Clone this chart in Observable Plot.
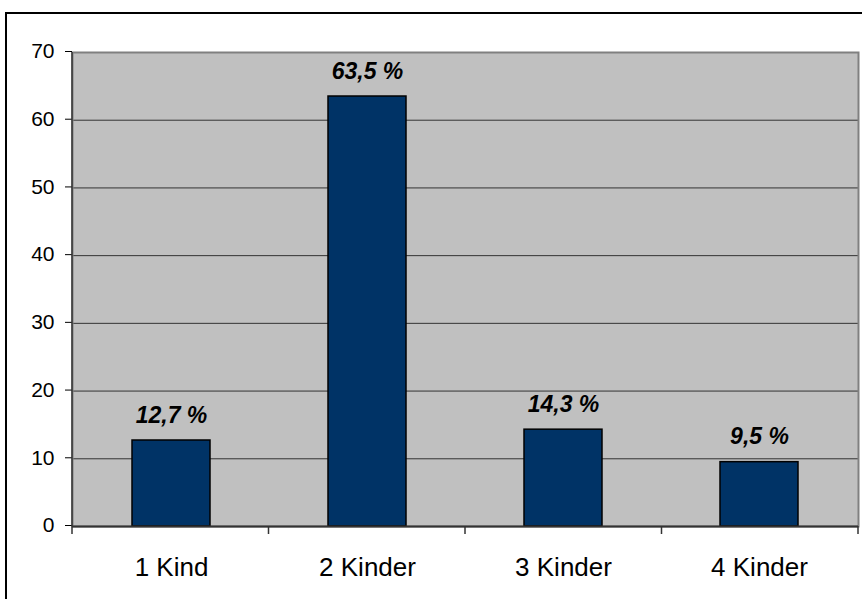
<!DOCTYPE html>
<html>
<head>
<meta charset="utf-8">
<script src="https://cdn.jsdelivr.net/npm/d3@7"></script>
<script src="https://cdn.jsdelivr.net/npm/@observablehq/plot@0.6"></script>
<style>
  html, body { margin: 0; padding: 0; background: #fff; }
  #chart { position: relative; width: 862px; height: 599px; overflow: hidden; }
  #chart svg { position: absolute; left: 0; top: 0; }
  #border { position: absolute; left: 5px; top: 12px; width: 900px; height: 700px;
            border-top: 2px solid #000; border-left: 2px solid #000; pointer-events: none; }
</style>
</head>
<body>
<div id="chart"><div id="border"></div></div>
<script>
// Families by number of children (share in percent)
const categories = ["1 Kind", "2 Kinder", "3 Kinder", "4 Kinder"];
const shares = [12.7, 63.5, 14.3, 9.5];
const yTicks = [0, 10, 20, 30, 40, 50, 60, 70];
const gridValues = [10, 20, 30, 40, 50, 60];

const rows = categories.map((c, i) => ({category: c, share: shares[i]}));
const fmt = v => v.toFixed(1).replace(".", ",") + " %";

const plot = Plot.plot({
  width: 862,
  height: 599,
  marginTop: 52,
  marginRight: 4,
  marginBottom: 73,
  marginLeft: 72,
  style: {fontFamily: "'Liberation Sans', Arial, sans-serif", background: "transparent", color: "#000"},
  x: {domain: categories, paddingInner: 0.6, paddingOuter: 0.3, label: null},
  y: {domain: [0, 70], label: null},
  marks: [
    Plot.frame({fill: "#c0c0c0"}),
    Plot.ruleY(gridValues, {stroke: "#333", strokeWidth: 1}),
    Plot.frame({stroke: "#808080", strokeWidth: 2}),
    Plot.barY(rows, {x: "category", y: "share", fill: "#003366", stroke: "#000", strokeWidth: 1.5}),
    Plot.text(rows, {
      x: "category", y: "share", text: d => fmt(d.share),
      dy: -18, lineAnchor: "bottom",
      fontSize: 23, fontWeight: "bold", fontStyle: "italic", fill: "#000"
    }),
    Plot.ruleY([0], {stroke: "#333", strokeWidth: 2}),
    Plot.axisY({ticks: yTicks, tickSize: 7, tickPadding: 11, fontSize: 21, tickFormat: d => d, dy: -1, label: null}),
    Plot.axisX({tickSize: 0, tickPadding: 31, fontSize: 26, label: null})
  ]
});

// Category boundary ticks and the left axis line, placed with the plot's own scales
const sx = plot.scale("x");
const sy = plot.scale("y");
const [x0, x1] = sx.range;
const n = categories.length;
const base = sy.apply(0);
const g = d3.select(plot).append("g").attr("stroke", "#333");
g.append("line")
  .attr("x1", x0).attr("x2", x0)
  .attr("y1", sy.apply(70)).attr("y2", base)
  .attr("stroke-width", 1.5);
g.selectAll("line.b")
  .data(d3.range(n + 1))
  .join("line")
  .attr("class", "b")
  .attr("x1", i => x0 + i * (x1 - x0) / n)
  .attr("x2", i => x0 + i * (x1 - x0) / n)
  .attr("y1", base)
  .attr("y2", base + 8)
  .attr("stroke-width", 1.5);

document.getElementById("chart").prepend(plot);
</script>
</body>
</html>
